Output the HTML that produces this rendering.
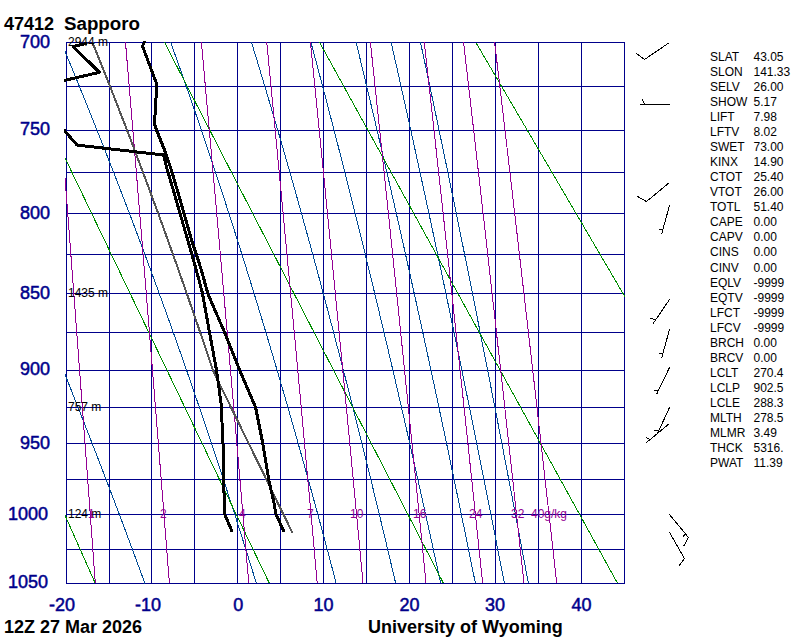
<!DOCTYPE html>
<html><head><meta charset="utf-8"><style>
html,body{margin:0;padding:0;background:#fff;}
svg{display:block;}
text{font-family:"Liberation Sans",Arial,Helvetica,sans-serif;}
</style></head><body>
<svg width="800" height="640" viewBox="0 0 800 640">
<rect width="800" height="640" fill="#fff"/>
<defs><clipPath id="c"><rect x="64" y="41" width="561" height="543"/></clipPath><clipPath id="c2"><rect x="65" y="42" width="560" height="542"/></clipPath></defs>
<path d="M66.5 42V584M109.5 42V584M151.5 42V584M194.5 42V584M237.5 42V584M280.5 42V584M323.5 42V584M366.5 42V584M409.5 42V584M452.5 42V584M495.5 42V584M538.5 42V584M581.5 42V584M624.5 42V584M66 42.5H625M66 86.5H625M66 130.5H625M66 172.5H625M66 213.5H625M66 254.5H625M66 293.5H625M66 332.5H625M66 370.5H625M66 407.5H625M66 443.5H625M66 479.5H625M66 514.5H625M66 549.5H625M66 583.5H625" stroke="#00008b" stroke-width="1" fill="none" shape-rendering="crispEdges"/>
<path d="M144.90 583.36L139.96 569.86L134.95 556.26L129.87 542.57L124.73 528.78L119.51 514.90L114.23 500.91L108.88 486.82L103.45 472.64L97.95 458.34L92.37 443.94L86.72 429.43L80.99 414.81L75.18 400.08L69.29 385.23L63.32 370.27L57.27 355.18L51.13 339.98L44.91 324.65L38.60 309.19L32.21 293.61L25.73 277.89L19.16 262.04L12.50 246.05L5.75 229.92L-1.10 213.65L-8.04 197.24L-15.07 180.67L-22.20 163.95L-29.43 147.08L-36.76 130.05L-44.19 112.85L-51.72 95.49L-59.35 77.96L-67.09 60.25L-74.94 42.36M256.40 583.36L252.22 569.86L247.98 556.26L243.68 542.57L239.32 528.78L234.89 514.90L230.39 500.91L225.82 486.82L221.18 472.64L216.47 458.34L211.69 443.94L206.83 429.43L201.89 414.81L196.87 400.08L191.77 385.23L186.58 370.27L181.30 355.18L175.94 339.98L170.48 324.65L164.93 309.19L159.29 293.61L153.54 277.89L147.70 262.04L141.75 246.05L135.69 229.92L129.53 213.65L123.25 197.24L116.86 180.67L110.35 163.95L103.72 147.08L96.97 130.05L90.09 112.85L83.08 95.49L75.94 77.96L68.67 60.25L61.26 42.36M336.20 583.36L332.65 569.86L329.05 556.26L325.40 542.57L321.69 528.78L317.94 514.90L314.13 500.91L310.26 486.82L306.34 472.64L302.36 458.34L298.32 443.94L294.21 429.43L290.04 414.81L285.81 400.08L281.50 385.23L277.13 370.27L272.68 355.18L268.16 339.98L263.56 324.65L258.88 309.19L254.12 293.61L249.27 277.89L244.34 262.04L239.31 246.05L234.19 229.92L228.98 213.65L223.66 197.24L218.24 180.67L212.72 163.95L207.08 147.08L201.33 130.05L195.46 112.85L189.46 95.49L183.34 77.96L177.09 60.25L170.70 42.36M395.70 583.36L392.52 569.86L389.31 556.26L386.05 542.57L382.76 528.78L379.42 514.90L376.04 500.91L372.61 486.82L369.13 472.64L365.61 458.34L362.04 443.94L358.42 429.43L354.75 414.81L351.03 400.08L347.25 385.23L343.41 370.27L339.52 355.18L335.56 339.98L331.55 324.65L327.47 309.19L323.32 293.61L319.11 277.89L314.83 262.04L310.47 246.05L306.04 229.92L301.53 213.65L296.94 197.24L292.27 180.67L287.51 163.95L282.66 147.08L277.72 130.05L272.69 112.85L267.55 95.49L262.31 77.96L256.96 60.25L251.50 42.36M440.70 583.36L437.77 569.86L434.82 556.26L431.82 542.57L428.79 528.78L425.73 514.90L422.63 500.91L419.49 486.82L416.31 472.64L413.10 458.34L409.84 443.94L406.54 429.43L403.20 414.81L399.81 400.08L396.38 385.23L392.90 370.27L389.37 355.18L385.79 339.98L382.17 324.65L378.49 309.19L374.75 293.61L370.96 277.89L367.12 262.04L363.21 246.05L359.24 229.92L355.21 213.65L351.12 197.24L346.95 180.67L342.72 163.95L338.41 147.08L334.03 130.05L329.57 112.85L325.03 95.49L320.41 77.96L315.70 60.25L310.90 42.36M475.40 583.36L472.67 569.86L469.91 556.26L467.11 542.57L464.29 528.78L461.44 514.90L458.55 500.91L455.63 486.82L452.68 472.64L449.69 458.34L446.67 443.94L443.61 429.43L440.51 414.81L437.37 400.08L434.20 385.23L430.98 370.27L427.73 355.18L424.43 339.98L421.09 324.65L417.70 309.19L414.26 293.61L410.78 277.89L407.25 262.04L403.67 246.05L400.04 229.92L396.35 213.65L392.61 197.24L388.81 180.67L384.95 163.95L381.03 147.08L377.04 130.05L372.99 112.85L368.88 95.49L364.69 77.96L360.43 60.25L356.10 42.36M504.40 583.36L501.77 569.86L499.11 556.26L496.43 542.57L493.72 528.78L490.98 514.90L488.21 500.91L485.41 486.82L482.58 472.64L479.72 458.34L476.83 443.94L473.90 429.43L470.94 414.81L467.95 400.08L464.91 385.23L461.85 370.27L458.74 355.18L455.60 339.98L452.42 324.65L449.20 309.19L445.94 293.61L442.63 277.89L439.28 262.04L435.89 246.05L432.45 229.92L428.96 213.65L425.42 197.24L421.83 180.67L418.19 163.95L414.50 147.08L410.75 130.05L406.94 112.85L403.07 95.49L399.15 77.96L395.16 60.25L391.10 42.36M528.40 583.36L525.87 569.86L523.32 556.26L520.75 542.57L518.15 528.78L515.52 514.90L512.86 500.91L510.18 486.82L507.47 472.64L504.73 458.34L501.96 443.94L499.16 429.43L496.33 414.81L493.47 400.08L490.57 385.23L487.64 370.27L484.68 355.18L481.68 339.98L478.65 324.65L475.58 309.19L472.47 293.61L469.32 277.89L466.14 262.04L462.91 246.05L459.64 229.92L456.32 213.65L452.96 197.24L449.56 180.67L446.11 163.95L442.61 147.08L439.06 130.05L435.46 112.85L431.80 95.49L428.09 77.96L424.33 60.25L420.50 42.36" stroke="#004a94" stroke-width="1" fill="none" shape-rendering="crispEdges" clip-path="url(#c2)"/>
<path d="M-145.59 42.36L95.30 583.36M9.46 42.36L269.39 583.36M164.50 42.36L443.48 583.36M319.55 42.36L617.57 583.36M475.76 42.36L792.96 583.36M629.65 42.36L965.75 583.36" stroke="#008c00" stroke-width="1" fill="none" shape-rendering="crispEdges" clip-path="url(#c2)"/>
<path d="M54.50 42.36L57.97 86.74L61.32 130.05L64.58 172.33L67.75 213.65L70.83 254.06L73.82 293.61L76.74 332.33L79.58 370.27L82.36 407.46L85.07 443.94L87.71 479.74L90.30 514.90L92.82 549.43L95.30 583.36M125.49 42.36L129.22 86.74L132.83 130.05L136.34 172.33L139.74 213.65L143.05 254.06L146.28 293.61L149.42 332.33L152.48 370.27L155.47 407.46L158.38 443.94L161.23 479.74L164.01 514.90L166.74 549.43L169.40 583.36M201.39 42.36L205.40 86.74L209.30 130.05L213.08 172.33L216.75 213.65L220.33 254.06L223.81 293.61L227.19 332.33L230.50 370.27L233.72 407.46L236.87 443.94L239.95 479.74L242.95 514.90L245.89 549.43L248.77 583.36M266.78 42.36L271.05 86.74L275.20 130.05L279.23 172.33L283.14 213.65L286.95 254.06L290.65 293.61L294.27 332.33L297.79 370.27L301.22 407.46L304.58 443.94L307.85 479.74L311.06 514.90L314.19 549.43L317.26 583.36M310.46 42.36L314.91 86.74L319.23 130.05L323.43 172.33L327.50 213.65L331.47 254.06L335.33 293.61L339.10 332.33L342.77 370.27L346.35 407.46L349.84 443.94L353.26 479.74L356.60 514.90L359.87 549.43L363.07 583.36M370.41 42.36L375.12 86.74L379.68 130.05L384.11 172.33L388.42 213.65L392.61 254.06L396.70 293.61L400.67 332.33L404.55 370.27L408.34 407.46L412.03 443.94L415.65 479.74L419.18 514.90L422.63 549.43L426.02 583.36M424.27 42.36L429.20 86.74L433.99 130.05L438.64 172.33L443.16 213.65L447.56 254.06L451.85 293.61L456.02 332.33L460.09 370.27L464.07 407.46L467.95 443.94L471.74 479.74L475.45 514.90L479.08 549.43L482.63 583.36M463.58 42.36L468.69 86.74L473.65 130.05L478.46 172.33L483.14 213.65L487.70 254.06L492.13 293.61L496.45 332.33L500.67 370.27L504.78 407.46L508.80 443.94L512.73 479.74L516.57 514.90L520.33 549.43L524.01 583.36M494.64 42.36L499.88 86.74L504.97 130.05L509.92 172.33L514.73 213.65L519.40 254.06L523.96 293.61L528.40 332.33L532.73 370.27L536.96 407.46L541.09 443.94L545.13 479.74L549.07 514.90L552.94 549.43L556.72 583.36" stroke="#930093" stroke-width="1" fill="none" shape-rendering="crispEdges" clip-path="url(#c2)"/>
<polyline points="292.5,532.9 214.7,374.0 212.9,370.3 207.9,355.2 202.8,340.0 197.5,324.6 192.2,309.2 186.8,293.6 181.3,277.9 175.7,262.0 170.0,246.1 164.2,229.9 158.3,213.7 152.2,197.2 146.1,180.7 139.8,164.0 133.5,147.1 127.0,130.0 120.3,112.9 113.6,95.5 106.7,78.0 99.6,60.2 92.5,42.4" fill="none" stroke="#555555" stroke-width="2" clip-path="url(#c)" shape-rendering="crispEdges"/>
<polyline points="145.2,40.5 142.5,46.0 152.0,71.5 156.7,84.0 156.0,98.0 154.5,124.0 156.5,130.0 164.5,150.0 166.0,154.5 170.6,167.6 178.7,194.8 191.6,240.0 201.4,270.0 207.8,293.5 224.4,332.0 239.8,370.5 255.6,407.5 262.8,443.5 268.8,480.0 274.5,505.0 275.5,513.0 284.1,532.0" fill="none" stroke="#000" stroke-width="3" clip-path="url(#c)" stroke-linejoin="round" shape-rendering="crispEdges"/>
<polyline points="87.0,43.2 73.2,46.6 99.4,72.3 40.0,86.1" fill="none" stroke="#000" stroke-width="3" clip-path="url(#c)" stroke-linejoin="round" shape-rendering="crispEdges"/>
<polyline points="40.0,110.0 64.4,130.5 77.1,145.1 163.5,155.0 166.6,167.6 174.7,194.8 196.3,270.0 202.5,293.5 209.4,332.0 216.6,370.5 221.6,407.5 221.9,420.0 223.0,443.5 223.6,480.0 224.4,505.0 224.5,514.0 232.3,532.0" fill="none" stroke="#000" stroke-width="3" clip-path="url(#c)" stroke-linejoin="round" shape-rendering="crispEdges"/>
<path d="M669.5 42.5L644.5 59.5M644.5 59.5L636.5 53.5M669.5 104.5L639.5 104.5M644.5 104.5L642.5 99.5M669.5 182.5L646.5 201.5M646.5 201.5L637.5 196.5M669.5 205.5L661.5 234.5M658.5 229.5L662.5 229.5M669.5 299.5L652.5 324.5M655.5 319.5L650.5 318.5M669.5 329.5L661.5 358.5M658.5 353.5L662.5 353.5M669.5 367.5L656.5 394.5M653.5 390.5L657.5 390.5M669.5 407.5L657.5 433.5M653.5 430.5L657.5 430.5M669.5 423.5L646.5 442.5M649.5 439.5L646.5 437.5M669.5 514.5L688.5 537.5M688.5 537.5L683.5 546.5M685.5 533.5L682.5 537.5M669.5 532.5L684.5 558.5M684.5 558.5L678.5 566.5" stroke="#000" stroke-width="1" fill="none" shape-rendering="crispEdges"/>
<text x="4" y="30" font-size="18" fill="#000" font-weight="bold" text-anchor="start" >47412</text>
<text x="64" y="30" font-size="18" fill="#000" font-weight="bold" text-anchor="start" textLength="76" lengthAdjust="spacingAndGlyphs" >Sapporo</text>
<text x="20" y="48" font-size="18" fill="#00008b" font-weight="normal" text-anchor="start" stroke="#00008b" stroke-width="0.5">700</text>
<text x="20" y="135" font-size="18" fill="#00008b" font-weight="normal" text-anchor="start" stroke="#00008b" stroke-width="0.5">750</text>
<text x="20" y="219" font-size="18" fill="#00008b" font-weight="normal" text-anchor="start" stroke="#00008b" stroke-width="0.5">800</text>
<text x="20" y="299" font-size="18" fill="#00008b" font-weight="normal" text-anchor="start" stroke="#00008b" stroke-width="0.5">850</text>
<text x="20" y="375" font-size="18" fill="#00008b" font-weight="normal" text-anchor="start" stroke="#00008b" stroke-width="0.5">900</text>
<text x="20" y="449" font-size="18" fill="#00008b" font-weight="normal" text-anchor="start" stroke="#00008b" stroke-width="0.5">950</text>
<text x="8" y="520" font-size="18" fill="#00008b" font-weight="normal" text-anchor="start" stroke="#00008b" stroke-width="0.5">1000</text>
<text x="8" y="588" font-size="18" fill="#00008b" font-weight="normal" text-anchor="start" stroke="#00008b" stroke-width="0.5">1050</text>
<text x="49" y="611" font-size="18" fill="#00008b" font-weight="normal" text-anchor="start" stroke="#00008b" stroke-width="0.5">-20</text>
<text x="135" y="611" font-size="18" fill="#00008b" font-weight="normal" text-anchor="start" stroke="#00008b" stroke-width="0.5">-10</text>
<text x="233.2" y="611" font-size="18" fill="#00008b" font-weight="normal" text-anchor="start" stroke="#00008b" stroke-width="0.5">0</text>
<text x="313.5" y="611" font-size="18" fill="#00008b" font-weight="normal" text-anchor="start" stroke="#00008b" stroke-width="0.5">10</text>
<text x="399.5" y="611" font-size="18" fill="#00008b" font-weight="normal" text-anchor="start" stroke="#00008b" stroke-width="0.5">20</text>
<text x="485" y="611" font-size="18" fill="#00008b" font-weight="normal" text-anchor="start" stroke="#00008b" stroke-width="0.5">30</text>
<text x="571.5" y="611" font-size="18" fill="#00008b" font-weight="normal" text-anchor="start" stroke="#00008b" stroke-width="0.5">40</text>
<text x="4" y="633" font-size="18" fill="#000" font-weight="bold" text-anchor="start" >12Z 27 Mar 2026</text>
<text x="368" y="633" font-size="18" fill="#000" font-weight="bold" text-anchor="start" >University of Wyoming</text>
<text x="68" y="46" font-size="12" fill="#000" font-weight="normal" text-anchor="start" >2944 m</text>
<text x="68" y="297" font-size="12" fill="#000" font-weight="normal" text-anchor="start" >1435 m</text>
<text x="68" y="411" font-size="12" fill="#000" font-weight="normal" text-anchor="start" >757 m</text>
<text x="68" y="518" font-size="12" fill="#000" font-weight="normal" text-anchor="start" >124 m</text>
<text x="88" y="518" font-size="12" fill="#930093" font-weight="normal" text-anchor="start" >1</text>
<text x="160" y="518" font-size="12" fill="#930093" font-weight="normal" text-anchor="start" >2</text>
<text x="239" y="518" font-size="12" fill="#930093" font-weight="normal" text-anchor="start" >4</text>
<text x="307" y="518" font-size="12" fill="#930093" font-weight="normal" text-anchor="start" >7</text>
<text x="350" y="518" font-size="12" fill="#930093" font-weight="normal" text-anchor="start" >10</text>
<text x="413" y="518" font-size="12" fill="#930093" font-weight="normal" text-anchor="start" >16</text>
<text x="469" y="518" font-size="12" fill="#930093" font-weight="normal" text-anchor="start" >24</text>
<text x="511" y="518" font-size="12" fill="#930093" font-weight="normal" text-anchor="start" >32</text>
<text x="531" y="518" font-size="12" fill="#930093" font-weight="normal" text-anchor="start" >40g/kg</text>
<text x="710" y="61" font-size="12" fill="#000" font-weight="normal" text-anchor="start" >SLAT</text>
<text x="753.5" y="61" font-size="12" fill="#000" font-weight="normal" text-anchor="start" >43.05</text>
<text x="710" y="76" font-size="12" fill="#000" font-weight="normal" text-anchor="start" >SLON</text>
<text x="753.5" y="76" font-size="12" fill="#000" font-weight="normal" text-anchor="start" >141.33</text>
<text x="710" y="91" font-size="12" fill="#000" font-weight="normal" text-anchor="start" >SELV</text>
<text x="753.5" y="91" font-size="12" fill="#000" font-weight="normal" text-anchor="start" >26.00</text>
<text x="710" y="106" font-size="12" fill="#000" font-weight="normal" text-anchor="start" >SHOW</text>
<text x="753.5" y="106" font-size="12" fill="#000" font-weight="normal" text-anchor="start" >5.17</text>
<text x="710" y="121" font-size="12" fill="#000" font-weight="normal" text-anchor="start" >LIFT</text>
<text x="753.5" y="121" font-size="12" fill="#000" font-weight="normal" text-anchor="start" >7.98</text>
<text x="710" y="136" font-size="12" fill="#000" font-weight="normal" text-anchor="start" >LFTV</text>
<text x="753.5" y="136" font-size="12" fill="#000" font-weight="normal" text-anchor="start" >8.02</text>
<text x="710" y="151" font-size="12" fill="#000" font-weight="normal" text-anchor="start" >SWET</text>
<text x="753.5" y="151" font-size="12" fill="#000" font-weight="normal" text-anchor="start" >73.00</text>
<text x="710" y="166" font-size="12" fill="#000" font-weight="normal" text-anchor="start" >KINX</text>
<text x="753.5" y="166" font-size="12" fill="#000" font-weight="normal" text-anchor="start" >14.90</text>
<text x="710" y="181" font-size="12" fill="#000" font-weight="normal" text-anchor="start" >CTOT</text>
<text x="753.5" y="181" font-size="12" fill="#000" font-weight="normal" text-anchor="start" >25.40</text>
<text x="710" y="196" font-size="12" fill="#000" font-weight="normal" text-anchor="start" >VTOT</text>
<text x="753.5" y="196" font-size="12" fill="#000" font-weight="normal" text-anchor="start" >26.00</text>
<text x="710" y="211" font-size="12" fill="#000" font-weight="normal" text-anchor="start" >TOTL</text>
<text x="753.5" y="211" font-size="12" fill="#000" font-weight="normal" text-anchor="start" >51.40</text>
<text x="710" y="226" font-size="12" fill="#000" font-weight="normal" text-anchor="start" >CAPE</text>
<text x="753.5" y="226" font-size="12" fill="#000" font-weight="normal" text-anchor="start" >0.00</text>
<text x="710" y="241" font-size="12" fill="#000" font-weight="normal" text-anchor="start" >CAPV</text>
<text x="753.5" y="241" font-size="12" fill="#000" font-weight="normal" text-anchor="start" >0.00</text>
<text x="710" y="256" font-size="12" fill="#000" font-weight="normal" text-anchor="start" >CINS</text>
<text x="753.5" y="256" font-size="12" fill="#000" font-weight="normal" text-anchor="start" >0.00</text>
<text x="710" y="272" font-size="12" fill="#000" font-weight="normal" text-anchor="start" >CINV</text>
<text x="753.5" y="272" font-size="12" fill="#000" font-weight="normal" text-anchor="start" >0.00</text>
<text x="710" y="287" font-size="12" fill="#000" font-weight="normal" text-anchor="start" >EQLV</text>
<text x="753.5" y="287" font-size="12" fill="#000" font-weight="normal" text-anchor="start" >-9999</text>
<text x="710" y="302" font-size="12" fill="#000" font-weight="normal" text-anchor="start" >EQTV</text>
<text x="753.5" y="302" font-size="12" fill="#000" font-weight="normal" text-anchor="start" >-9999</text>
<text x="710" y="317" font-size="12" fill="#000" font-weight="normal" text-anchor="start" >LFCT</text>
<text x="753.5" y="317" font-size="12" fill="#000" font-weight="normal" text-anchor="start" >-9999</text>
<text x="710" y="332" font-size="12" fill="#000" font-weight="normal" text-anchor="start" >LFCV</text>
<text x="753.5" y="332" font-size="12" fill="#000" font-weight="normal" text-anchor="start" >-9999</text>
<text x="710" y="347" font-size="12" fill="#000" font-weight="normal" text-anchor="start" >BRCH</text>
<text x="753.5" y="347" font-size="12" fill="#000" font-weight="normal" text-anchor="start" >0.00</text>
<text x="710" y="362" font-size="12" fill="#000" font-weight="normal" text-anchor="start" >BRCV</text>
<text x="753.5" y="362" font-size="12" fill="#000" font-weight="normal" text-anchor="start" >0.00</text>
<text x="710" y="377" font-size="12" fill="#000" font-weight="normal" text-anchor="start" >LCLT</text>
<text x="753.5" y="377" font-size="12" fill="#000" font-weight="normal" text-anchor="start" >270.4</text>
<text x="710" y="392" font-size="12" fill="#000" font-weight="normal" text-anchor="start" >LCLP</text>
<text x="753.5" y="392" font-size="12" fill="#000" font-weight="normal" text-anchor="start" >902.5</text>
<text x="710" y="407" font-size="12" fill="#000" font-weight="normal" text-anchor="start" >LCLE</text>
<text x="753.5" y="407" font-size="12" fill="#000" font-weight="normal" text-anchor="start" >288.3</text>
<text x="710" y="422" font-size="12" fill="#000" font-weight="normal" text-anchor="start" >MLTH</text>
<text x="753.5" y="422" font-size="12" fill="#000" font-weight="normal" text-anchor="start" >278.5</text>
<text x="710" y="437" font-size="12" fill="#000" font-weight="normal" text-anchor="start" >MLMR</text>
<text x="753.5" y="437" font-size="12" fill="#000" font-weight="normal" text-anchor="start" >3.49</text>
<text x="710" y="452" font-size="12" fill="#000" font-weight="normal" text-anchor="start" >THCK</text>
<text x="753.5" y="452" font-size="12" fill="#000" font-weight="normal" text-anchor="start" >5316.</text>
<text x="710" y="467" font-size="12" fill="#000" font-weight="normal" text-anchor="start" >PWAT</text>
<text x="753.5" y="467" font-size="12" fill="#000" font-weight="normal" text-anchor="start" >11.39</text>
</svg>
</body></html>
